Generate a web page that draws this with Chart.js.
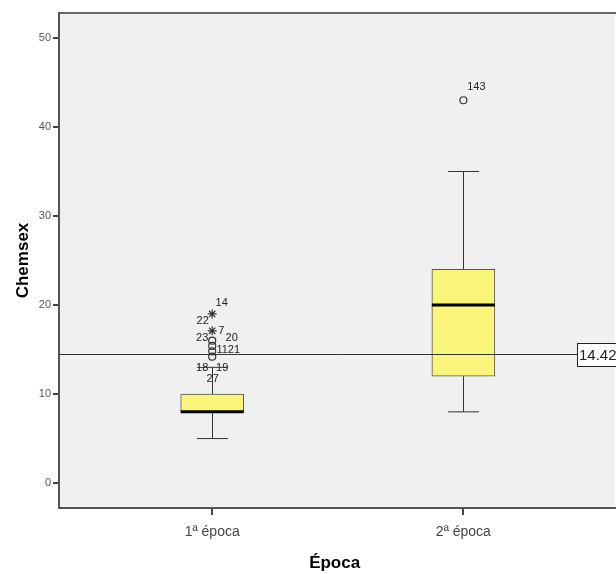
<!DOCTYPE html>
<html>
<head>
<meta charset="utf-8">
<script src="https://cdn.jsdelivr.net/npm/chart.js@4.4.1/dist/chart.umd.min.js"></script>
<style>
html,body{margin:0;padding:0;background:#fff;}
#wrap{width:616px;height:574px;position:relative;}
</style>
</head>
<body>
<div id="wrap"><canvas id="c" width="616" height="574"></canvas></div>
<script>
// ---- data ----
const categories = ['1ª época', '2ª época'];
const catPos = [1, 2];
const q1 = [8, 12];
const median = [8, 20];
const q3 = [10, 24];
const whiskerLow = [5, 8];
const whiskerHigh = [13, 35];
const outlierCat = [1, 1, 1, 1, 2];
const outlierVal = [16, 15.4, 14.8, 14.2, 43];
const extremeCat = [1, 1];
const extremeVal = [19, 17.1];
const yTicks = [0, 10, 20, 30, 40, 50];
const refValue = 14.42;
// case labels: anchor category, anchor value, text
const labelCat = [1, 1, 1, 1, 1, 1, 1, 1, 1, 2];
const labelVal = [19, 19, 17.1, 16, 16, 15.4, 14.2, 14.2, 14.2, 43];
const labelText = ['14', '22', '7', '23', '20', '1121', '18', '19', '27', '143'];

// ---- style / layout (pixel offsets of case labels) ----
const labelDx = [9.5, -9.5, 9, -10, 19.5, 16, -10, 10, 0.5, 13];
const labelDy = [-11, 7.5, 0, -3, -3, 4, 11, 11, 22.5, -13];
const FONT = "'Liberation Sans', Arial, sans-serif";

const bgPlugin = {
  id: 'bg',
  beforeDraw(chart) {
    const {ctx, chartArea: a, width} = chart;
    ctx.save();
    ctx.fillStyle = '#f0f0f0';
    ctx.fillRect(a.left, a.top, width - a.left - 1, a.bottom - a.top);
    ctx.strokeStyle = '#666';
    ctx.lineWidth = 2;
    ctx.beginPath();
    ctx.moveTo(a.left, a.top);
    ctx.lineTo(width, a.top);
    ctx.stroke();
    ctx.restore();
  },
  afterDraw(chart) {
    const {ctx, chartArea: a, width} = chart;
    ctx.save();
    ctx.strokeStyle = '#555';
    ctx.lineWidth = 2;
    ctx.beginPath();
    ctx.moveTo(a.right - 1, a.bottom);
    ctx.lineTo(width, a.bottom);
    ctx.stroke();
    ctx.restore();
  }
};

const boxPlugin = {
  id: 'boxparts',
  beforeDatasetsDraw(chart) {
    const {ctx} = chart;
    const xs = chart.scales.x, ys = chart.scales.y;
    ctx.save();
    ctx.strokeStyle = '#333';
    ctx.lineWidth = 1;
    for (let i = 0; i < categories.length; i++) {
      const px = Math.round(xs.getPixelForValue(catPos[i])) + 0.5;
      const capHalf = 15.5;
      const yl = ys.getPixelForValue(whiskerLow[i]);
      const yh = ys.getPixelForValue(whiskerHigh[i]);
      const y1 = ys.getPixelForValue(q1[i]);
      const y3 = ys.getPixelForValue(q3[i]);
      ctx.beginPath();
      ctx.moveTo(px, y1); ctx.lineTo(px, yl);
      ctx.moveTo(px, y3); ctx.lineTo(px, yh);
      ctx.moveTo(px - capHalf, yl); ctx.lineTo(px + capHalf, yl);
      ctx.moveTo(px - capHalf, yh); ctx.lineTo(px + capHalf, yh);
      ctx.stroke();
    }
    ctx.restore();
  },
  afterDatasetsDraw(chart) {
    const {ctx, chartArea: a, width} = chart;
    const xs = chart.scales.x, ys = chart.scales.y;
    ctx.save();
    // medians
    ctx.strokeStyle = '#000';
    ctx.lineWidth = 3;
    for (let i = 0; i < categories.length; i++) {
      const px = xs.getPixelForValue(catPos[i]);
      const ym = ys.getPixelForValue(median[i]);
      ctx.beginPath();
      ctx.moveTo(px - 31.5, ym); ctx.lineTo(px + 31.5, ym);
      ctx.stroke();
    }
    // reference line
    const yr = Math.round(ys.getPixelForValue(refValue)) - 0.5;
    ctx.strokeStyle = '#333';
    ctx.lineWidth = 1;
    ctx.beginPath();
    ctx.moveTo(a.left, yr); ctx.lineTo(width, yr);
    ctx.stroke();
    // reference label box
    ctx.fillStyle = '#fff';
    ctx.fillRect(577.5, yr - 11, 45, 23);
    ctx.strokeStyle = '#222';
    ctx.strokeRect(577.5, yr - 11, 45, 23);
    ctx.fillStyle = '#222';
    ctx.font = '15px ' + FONT;
    ctx.textAlign = 'left';
    ctx.textBaseline = 'middle';
    ctx.fillText(refValue.toFixed(2), 579, yr + 1);
    // case labels
    ctx.font = '11px ' + FONT;
    ctx.textAlign = 'center';
    ctx.fillStyle = '#222';
    for (let i = 0; i < labelText.length; i++) {
      const px = xs.getPixelForValue(labelCat[i]) + labelDx[i];
      const py = ys.getPixelForValue(labelVal[i]) + labelDy[i];
      ctx.fillText(labelText[i], px, py);
    }
    ctx.restore();
  }
};

new Chart(document.getElementById('c'), {
  type: 'bar',
  data: {
    datasets: [
      {
        type: 'bar',
        data: catPos.map((x, i) => ({x: x, y: [q1[i], q3[i]]})),
        backgroundColor: '#f9f57a',
        borderColor: '#555',
        borderWidth: 1,
        borderSkipped: false,
        barThickness: 63,
        grouped: false,
        order: 2
      },
      {
        type: 'scatter',
        data: outlierCat.map((x, i) => ({x: x, y: outlierVal[i]})),
        pointStyle: 'circle',
        pointRadius: 3.5,
        pointBorderWidth: 1.2,
        borderColor: '#333',
        backgroundColor: 'rgba(0,0,0,0)',
        order: 1
      },
      {
        type: 'scatter',
        data: extremeCat.map((x, i) => ({x: x, y: extremeVal[i]})),
        pointStyle: 'star',
        pointRadius: 4.5,
        pointBorderWidth: 1.2,
        borderColor: '#333',
        backgroundColor: '#333',
        order: 1
      }
    ]
  },
  options: {
    responsive: false,
    animation: false,
    devicePixelRatio: 1,
    layout: {padding: {left: 0, top: 13, right: 1, bottom: 0}},
    plugins: {legend: {display: false}, tooltip: {enabled: false}},
    scales: {
      x: {
        type: 'linear',
        offset: false,
        min: 0.39,
        max: 2.585,
        afterBuildTicks(scale) { scale.ticks = catPos.map(v => ({value: v})); },
        afterFit(scale) { scale.height = 66; },
        ticks: {
          callback: (v) => categories[catPos.indexOf(v)],
          color: '#444',
          font: {family: FONT, size: 14},
          padding: 9,
          maxRotation: 0,
          autoSkip: false
        },
        grid: {offset: false, drawOnChartArea: false, drawTicks: true, tickLength: 7, color: '#444', lineWidth: 2},
        border: {display: true, color: '#555', width: 2},
        title: {
          display: true,
          text: 'Época',
          color: '#000',
          font: {family: FONT, size: 17, weight: 'bold'},
          padding: {top: 0, bottom: 0}
        }
      },
      y: {
        type: 'linear',
        min: -2.8,
        max: 52.8,
        afterBuildTicks(scale) { scale.ticks = yTicks.map(v => ({value: v})); },
        afterFit(scale) { scale.width = 59; },
        ticks: {
          color: '#555',
          font: {family: FONT, size: 11},
          padding: 2
        },
        grid: {drawOnChartArea: false, drawTicks: true, tickLength: 6, color: '#444', lineWidth: 2},
        border: {display: true, color: '#555', width: 2},
        title: {
          display: true,
          text: 'Chemsex',
          color: '#000',
          font: {family: FONT, size: 17, weight: 'bold'},
          padding: {top: 13, bottom: 0}
        }
      }
    }
  },
  plugins: [bgPlugin, boxPlugin]
});
</script>
</body>
</html>
